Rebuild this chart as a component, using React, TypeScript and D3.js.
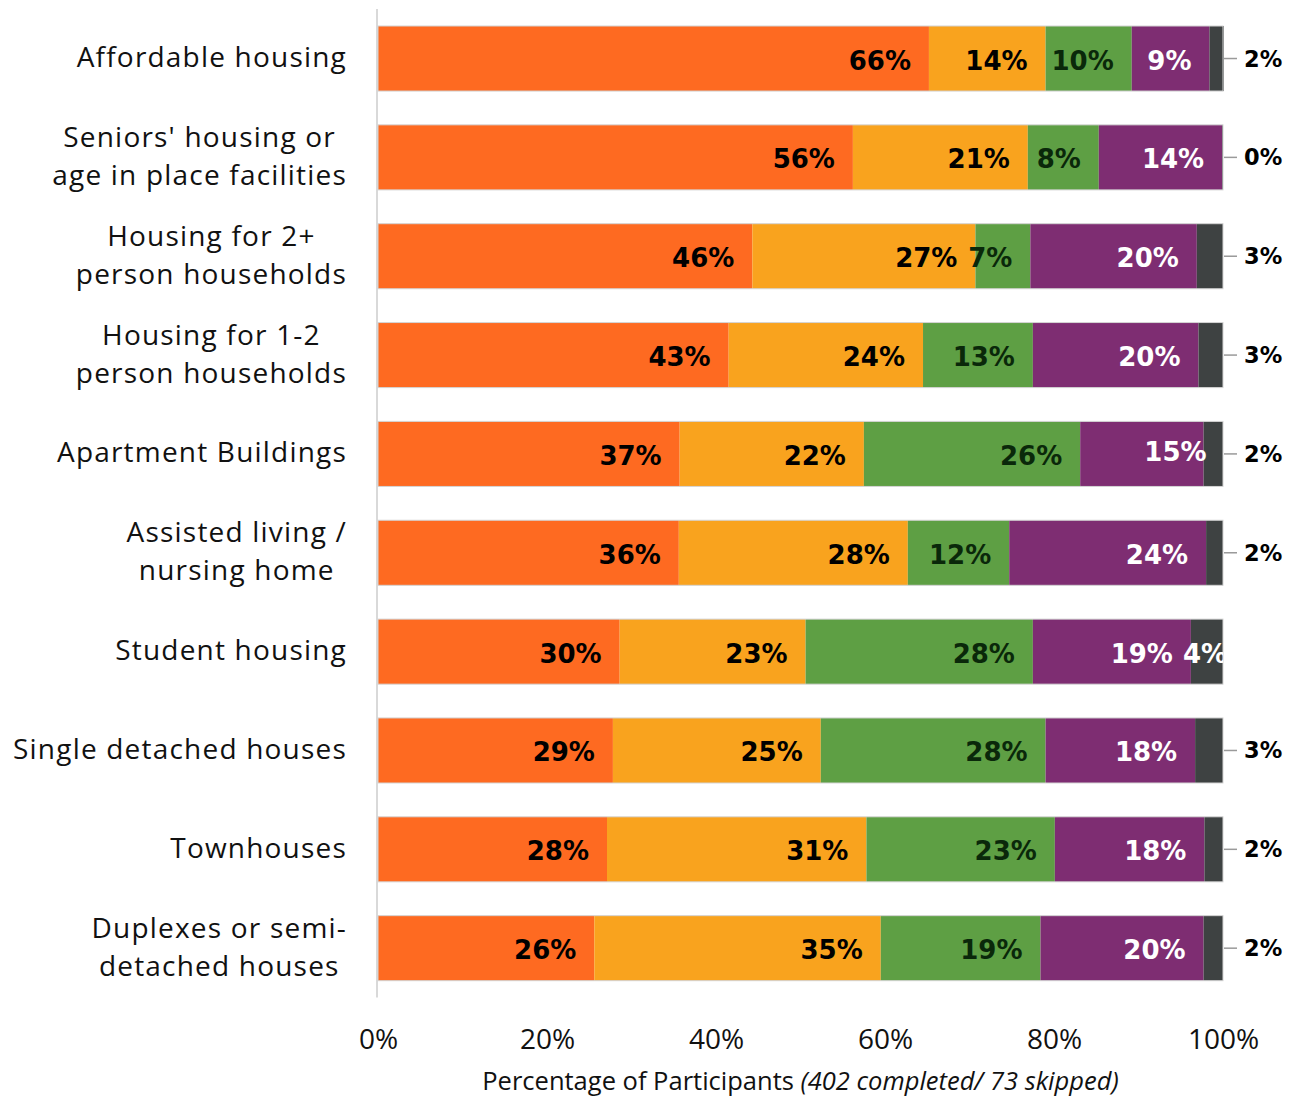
import { useEffect, useRef } from "react";
import * as d3 from "d3";

// Categories, top to bottom (label lines as printed)
const categories = [
  "Affordable housing",
  "Seniors' housing or age in place facilities",
  "Housing for 2+ person households",
  "Housing for 1-2 person households",
  "Apartment Buildings",
  "Assisted living / nursing home",
  "Student housing",
  "Single detached houses",
  "Townhouses",
  "Duplexes or semi-detached houses",
];
const categoryLines = [
  ["Affordable housing"],
  ["Seniors' housing or", "age in place facilities"],
  ["Housing for 2+", "person households"],
  ["Housing for 1-2", "person households"],
  ["Apartment Buildings"],
  ["Assisted living /", "nursing home"],
  ["Student housing"],
  ["Single detached houses"],
  ["Townhouses"],
  ["Duplexes or semi-", "detached houses"],
];

// Segment widths (percent)
const orangeValues = [65.2, 56.2, 44.3, 41.5, 35.7, 35.6, 28.6, 27.8, 27.1, 25.6];
const amberValues = [13.8, 20.7, 26.4, 23.0, 21.8, 27.1, 22.0, 24.6, 30.7, 33.9];
const greenValues = [10.2, 8.4, 6.5, 13.0, 25.6, 12.0, 26.9, 26.6, 22.3, 18.9];
const purpleValues = [9.2, 14.6, 19.7, 19.6, 14.6, 23.3, 18.7, 17.7, 17.7, 19.3];
const greyValues = [1.7, 0.1, 3.1, 2.9, 2.3, 2.0, 3.8, 3.3, 2.2, 2.3];

// Printed labels
const orangeLabels = [66, 56, 46, 43, 37, 36, 30, 29, 28, 26];
const amberLabels = [14, 21, 27, 24, 22, 28, 23, 25, 31, 35];
const greenLabels = [10, 8, 7, 13, 26, 12, 28, 28, 23, 19];
const purpleLabels = [9, 14, 20, 20, 15, 24, 19, 18, 18, 20];
const greyLabels = [2, 0, 3, 3, 2, 2, 4, 3, 2, 2];

const tickValues = [0, 20, 40, 60, 80, 100];

const keys = ["orange", "amber", "green", "purple", "grey"];
const colors: Record<string, string> = {
  orange: "#fe6a21",
  amber: "#f9a31e",
  green: "#5e9f44",
  purple: "#7e2d72",
  grey: "#3e4242",
};
const textColors: Record<string, string> = {
  orange: "#000",
  amber: "#000",
  green: "#0a280a",
  purple: "#fff",
  grey: "#fff",
};

const W = 1296;
const H = 1096;

export default function App() {
  const ref = useRef<SVGSVGElement>(null);

  useEffect(() => {
    const svg = d3.select(ref.current);
    svg.selectAll("*").remove();

    const table = categories.map((c, i) => ({
      category: c,
      orange: orangeValues[i],
      amber: amberValues[i],
      green: greenValues[i],
      purple: purpleValues[i],
      grey: greyValues[i],
    }));
    const labels: Record<string, number[]> = {
      orange: orangeLabels,
      amber: amberLabels,
      green: greenLabels,
      purple: purpleLabels,
      grey: greyLabels,
    };

    const x = d3.scaleLinear().domain([0, 100]).range([378, 1223]);
    const y = d3
      .scaleBand()
      .domain(categories)
      .range([9.1, 997.6])
      .paddingInner(0.342)
      .paddingOuter(0.171);

    const stacked = d3.stack<any>().keys(keys)(table);

    svg
      .append("defs")
      .append("clipPath")
      .attr("id", "plot-clip")
      .append("rect")
      .attr("x", x(0))
      .attr("y", 0)
      .attr("width", x(100) - x(0))
      .attr("height", H);

    // Vertical axis line
    svg
      .append("line")
      .attr("x1", 377)
      .attr("x2", 377)
      .attr("y1", y.range()[0])
      .attr("y2", y.range()[1])
      .attr("stroke", "#d9d9d9")
      .attr("stroke-width", 2);

    // Bars
    svg
      .append("g")
      .selectAll("g")
      .data(stacked)
      .join("g")
      .attr("fill", (s) => colors[s.key])
      .selectAll("rect")
      .data((s) => s)
      .join("rect")
      .attr("x", (d) => x(d[0]))
      .attr("y", (d) => y(d.data.category)!)
      .attr("width", (d) => x(d[1]) - x(d[0]))
      .attr("height", y.bandwidth());

    // thin bar outline
    const last = stacked[stacked.length - 1];
    svg
      .append("g")
      .selectAll("rect")
      .data(last)
      .join("rect")
      .attr("x", x(0))
      .attr("y", (d) => y(d.data.category)!)
      .attr("width", (d) => x(Math.min(d[1], 100)) - x(0))
      .attr("height", y.bandwidth())
      .attr("fill", "none")
      .attr("stroke", "#d4d4d4")
      .attr("stroke-width", 1);

    const cy = (c: string) => y(c)! + y.bandwidth() / 2;

    // Inside labels for the first four segments
    const nudge: Record<string, [number, number]> = {
      "purple|Apartment Buildings": [21, -4],
    };
    stacked.slice(0, 4).forEach((s) => {
      svg
        .append("g")
        .selectAll("text")
        .data(s)
        .join("text")
        .attr("x", (d) => x(d[1]) - 18 + (nudge[s.key + "|" + d.data.category]?.[0] ?? 0))
        .attr("y", (d) => cy(d.data.category) + 11 + (nudge[s.key + "|" + d.data.category]?.[1] ?? 0))
        .attr("text-anchor", "end")
        .attr("font-family", "'DejaVu Sans', sans-serif")
        .attr("font-weight", "bold")
        .attr("font-size", 26)
        .attr("fill", textColors[s.key])
        .text((d, i) => labels[s.key][i] + "%");
    });

    // Last segment: outside with leader, or inside (clipped) when wide enough
    last.forEach((d, i) => {
      const c = d.data.category;
      const segW = x(d[1]) - x(d[0]);
      if (segW > 30) {
        svg
          .append("text")
          .attr("clip-path", "url(#plot-clip)")
          .attr("x", x(d[0]) - 8)
          .attr("y", cy(c) + 11)
          .attr("font-family", "'DejaVu Sans', sans-serif")
          .attr("font-weight", "bold")
          .attr("font-size", 26)
          .attr("fill", textColors.grey)
          .text(greyLabels[i] + "%");
      } else {
        svg
          .append("line")
          .attr("x1", x(100) + 1)
          .attr("x2", x(100) + 14)
          .attr("y1", cy(c))
          .attr("y2", cy(c))
          .attr("stroke", "#9a9a9a")
          .attr("stroke-width", 1.5);
        svg
          .append("text")
          .attr("x", x(100) + 21)
          .attr("y", cy(c) + 8)
          .attr("font-family", "'DejaVu Sans', sans-serif")
          .attr("font-weight", "bold")
          .attr("font-size", 22.5)
          .attr("fill", "#000")
          .text(greyLabels[i] + "%");
      }
    });

    // Category labels (block right-aligned, lines centred)
    const catG = svg.append("g");
    categories.forEach((c, i) => {
      const lines = categoryLines[i];
      const t = catG
        .append("text")
        .attr("font-family", "'Open Sans', 'Noto Sans', sans-serif")
        .attr("font-size", 28)
        .attr("letter-spacing", 1.2)
        .attr("fill", "#111")
        .attr("text-anchor", "middle");
      const spans = lines.map((ln, k) =>
        t
          .append("tspan")
          .attr("y", cy(c) + 8.5 - (lines.length - 1) * 19 + k * 38)
          .text(ln)
      );
      const widths = spans.map((sp) => (sp.node() as SVGTSpanElement).getComputedTextLength());
      const maxW = d3.max(widths) ?? 0;
      spans.forEach((sp) => sp.attr("x", 347 - maxW / 2));
    });

    // X axis
    const axis = d3
      .axisBottom(x)
      .tickValues(tickValues)
      .tickSize(0)
      .tickPadding(32)
      .tickFormat((d) => d + "%");
    const gx = svg
      .append("g")
      .attr("transform", `translate(0,${y.range()[1]})`)
      .call(axis);
    gx.select(".domain").remove();
    gx.selectAll("text")
      .attr("font-family", "'Open Sans', 'Noto Sans', sans-serif")
      .attr("font-size", 28)
      .attr("fill", "#111");

    // Axis title
    const title = svg
      .append("text")
      .attr("x", (x(0) + x(100)) / 2)
      .attr("y", 1090)
      .attr("text-anchor", "middle")
      .attr("font-family", "'Open Sans', 'Noto Sans', sans-serif")
      .attr("font-size", 25.5)
      .attr("fill", "#111");
    title.append("tspan").text("Percentage of Participants ");
    title.append("tspan").attr("font-style", "italic").text("(402 completed/ 73 skipped)");
  }, []);

  return (
    <svg
      ref={ref}
      width={W}
      height={H}
      style={{ position: "absolute", left: 0, top: 0, background: "#fff" }}
    />
  );
}
